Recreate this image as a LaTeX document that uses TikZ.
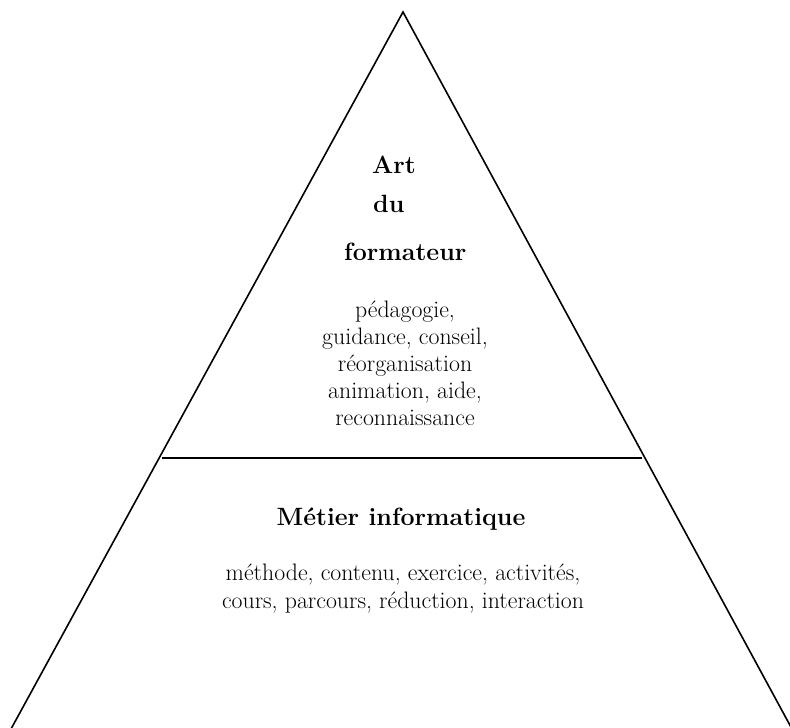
\documentclass[tikz,border=0pt]{standalone}
\usepackage{fontspec}
\begin{document}
\begin{tikzpicture}[x=1pt,y=-1pt,
  edge/.style={line width=1.6pt},
  head/.style={font=\fontsize{25}{28}\selectfont\bfseries, inner sep=0pt},
  body/.style={font=\fontsize{23.8}{27}\selectfont, align=center, inner sep=0pt}]
  \useasboundingbox (0,0) rectangle (790,728);
  % pyramid outline
  \coordinate (apex) at (403,12);
  \coordinate (bl) at (11,729);
  \coordinate (br) at (792,729);
  \draw[edge] (bl) -- (apex) -- (br);
  % dividing line
  \coordinate (dl) at (162,458);
  \coordinate (dr) at (642,458);
  \draw[line width=1.9pt] (dl) -- (dr);
  % upper level
  \node[head, anchor=base west] (art) at (372,173) {Art};
  \node[head, anchor=base west] (du) at (373,212) {du};
  \node[head, anchor=base west] (form) at (344,260) {formateur};
  \node[body, anchor=base] (up) at (405,425)
    {pédagogie,\\ guidance, conseil,\\ réorganisation\\ animation, aide,\\ reconnaissance};
  % lower level
  \node[head, anchor=base] (metier) at (401,525) {Métier informatique};
  \node[body, anchor=base, font=\fontsize{23.8}{28}\selectfont] (low) at (403,608)
    {méthode, contenu, exercice, activités,\\ cours, parcours, réduction, interaction};
\end{tikzpicture}
\end{document}
